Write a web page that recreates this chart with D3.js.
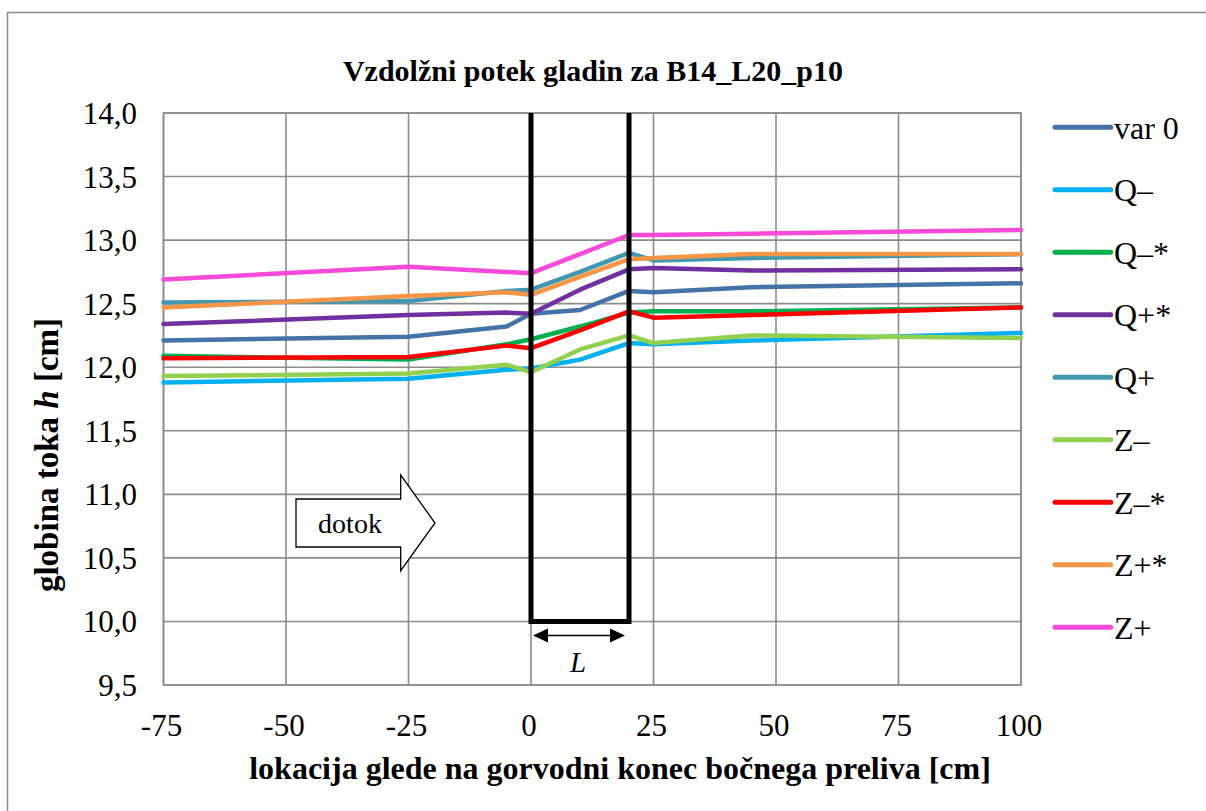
<!DOCTYPE html>
<html><head><meta charset="utf-8">
<script src="https://cdn.jsdelivr.net/npm/d3@7"></script>
<style>
@font-face{font-family:"ChartSerif";src:local("Liberation Serif"),local("LiberationSerif"),local("Liberation Serif Regular");font-weight:400;font-style:normal}
@font-face{font-family:"ChartSerif";src:local("Liberation Serif Bold"),local("LiberationSerif-Bold");font-weight:700;font-style:normal}
@font-face{font-family:"ChartSerif";src:local("Liberation Serif Italic"),local("LiberationSerif-Italic");font-weight:400;font-style:italic}
@font-face{font-family:"ChartSerif";src:local("Liberation Serif Bold Italic"),local("LiberationSerif-BoldItalic");font-weight:700;font-style:italic}
body{margin:0;background:#fff}svg{display:block}
svg text{font-family:"Liberation Serif","ChartSerif",serif !important}
</style>
</head><body><svg id="c" width="1206" height="811"></svg>
<script>
const xVals = [-75, -25, -5, 0, 10, 20, 25, 45, 100];
const seriesNames = ["var 0","Q–","Q–*","Q+*","Q+","Z–","Z–*","Z+*","Z+"];
const seriesColors = ["#4572A7","#00B0F0","#00B050","#7030A0","#4198AF","#92D050","#FF0000","#F79646","#F84AD8"];
const var0   = [12.21,12.24,12.32,12.42,12.45,12.60,12.59,12.63,12.66];
const qMinus = [11.88,11.91,11.98,11.99,12.06,12.19,12.18,12.21,12.27];
const qMinusS= [12.09,12.06,12.18,12.22,12.32,12.43,12.44,12.44,12.47];
const qPlusS = [12.34,12.41,12.43,12.42,12.61,12.77,12.78,12.76,12.77];
const qPlus  = [12.51,12.52,12.60,12.61,12.75,12.90,12.84,12.86,12.89];
const zMinus = [11.93,11.95,12.02,11.96,12.14,12.25,12.19,12.25,12.23];
const zMinusS= [12.07,12.08,12.17,12.15,12.29,12.44,12.39,12.41,12.47];
const zPlusS = [12.47,12.56,12.59,12.57,12.71,12.85,12.86,12.89,12.89];
const zPlus  = [12.69,12.79,12.75,12.74,12.89,13.04,13.04,13.05,13.08];
const seriesValues = [var0,qMinus,qMinusS,qPlusS,qPlus,zMinus,zMinusS,zPlusS,zPlus];
const xTicks = [-75,-50,-25,0,25,50,75,100];
const yTicks = [9.5,10,10.5,11,11.5,12,12.5,13,13.5,14];
const weirX = [0, 20];
const weirBottom = 10.0;

const FONT = '"Liberation Serif"';
const svg = d3.select("#c");
const L=163.5,R=1021,T=113,B=685;
const x = d3.scaleLinear().domain([-75,100]).range([L,R]);
const y = d3.scaleLinear().domain([9.5,14]).range([B,T]);
const fmt = d => d3.format(".1f")(d).replace(".",",");
function txt(sel){ return sel.attr("font-family",FONT); }

svg.append("rect").attr("x",7.5).attr("y",12.5).attr("width",1260).attr("height",900)
  .attr("fill","#fff").attr("stroke","#8c8c8c").attr("stroke-width",1.5);

// gridlines (no axis text)
const grid = svg.append("g");
grid.selectAll("line.vx").data(xTicks).join("line").attr("class","vx")
  .attr("x1",d=>x(d)).attr("x2",d=>x(d)).attr("y1",T).attr("y2",B)
  .attr("stroke","#8c8c8c").attr("stroke-width",1.6);
grid.selectAll("line.hy").data(yTicks).join("line").attr("class","hy")
  .attr("x1",L).attr("x2",R).attr("y1",d=>y(d)).attr("y2",d=>y(d))
  .attr("stroke","#8c8c8c").attr("stroke-width",1.6);
svg.append("rect").attr("x",L).attr("y",T).attr("width",R-L).attr("height",B-T)
  .attr("fill","none").attr("stroke","#8c8c8c").attr("stroke-width",1.6);

// tick labels
svg.append("g").selectAll("text").data(yTicks).join("text")
  .attr("x",137).attr("y",d=>y(d)+11).attr("text-anchor","end").call(txt)
  .attr("font-size",31).text(fmt);
svg.append("g").selectAll("text").data(xTicks).join("text")
  .attr("x",d=>x(d)-2).attr("y",736).attr("text-anchor","middle").call(txt)
  .attr("font-size",31).text(d=>d);

// series
const line = d3.line().x((d,i)=>x(xVals[i])).y(d=>y(d));
svg.append("g").selectAll("path").data(seriesValues).join("path")
  .attr("d",line).attr("fill","none").attr("stroke",(d,i)=>seriesColors[i])
  .attr("stroke-width",4.5).attr("stroke-linejoin","round").attr("stroke-linecap","round");

// weir
svg.append("path")
  .attr("d",`M${x(weirX[0])},${T} L${x(weirX[0])},${y(weirBottom)} L${x(weirX[1])},${y(weirBottom)} L${x(weirX[1])},${T}`)
  .attr("fill","none").attr("stroke","#000").attr("stroke-width",5);
const ay = y(weirBottom)+14, ax0 = x(weirX[0])+2, ax1 = x(weirX[1])-4;
svg.append("line").attr("x1",ax0+10).attr("x2",ax1-10).attr("y1",ay).attr("y2",ay).attr("stroke","#000").attr("stroke-width",1.5);
svg.append("path").attr("d",`M${ax0},${ay} L${ax0+15},${ay-7} L${ax0+15},${ay+7}Z M${ax1},${ay} L${ax1-15},${ay-7} L${ax1-15},${ay+7}Z`).attr("fill","#000");
svg.append("text").attr("x",(x(weirX[0])+x(weirX[1]))/2-2).attr("y",ay+37).attr("text-anchor","middle").call(txt)
  .attr("font-size",29).attr("font-style","italic").text("L");

// dotok arrow
const bx0=296, bx1=400.7, tipx=435, by0=499, by1=547, hy0=475, hy1=570.7, ty=523;
svg.append("path").attr("d",`M${bx0},${by0} L${bx1},${by0} L${bx1},${hy0} L${tipx},${ty} L${bx1},${hy1} L${bx1},${by1} L${bx0},${by1}Z`)
  .attr("fill","#fff").attr("stroke","#000").attr("stroke-width",1.3);
svg.append("text").attr("x",350).attr("y",533).attr("text-anchor","middle").call(txt).attr("font-size",28).text("dotok");

// legend
const lg = svg.append("g").selectAll("g").data(seriesNames).join("g")
  .attr("transform",(d,i)=>`translate(1055,${127.3+i*62.5})`);
lg.append("line").attr("x1",0).attr("x2",55.7).attr("stroke",(d,i)=>seriesColors[i]).attr("stroke-width",5).attr("stroke-linecap","round");
lg.append("text").attr("x",59).attr("y",11.5).call(txt).attr("font-size",32).text(d=>d);

// titles
svg.append("text").attr("x",593).attr("y",81).attr("text-anchor","middle").call(txt).attr("font-size",30).attr("font-weight","bold")
  .text("Vzdolžni potek gladin za B14_L20_p10");
svg.append("text").attr("x",620).attr("y",779).attr("text-anchor","middle").call(txt).attr("font-size",32).attr("font-weight","bold")
  .text("lokacija glede na gorvodni konec bočnega preliva [cm]");
const yt = svg.append("text").attr("transform","translate(58,455) rotate(-90)").attr("text-anchor","middle").call(txt)
  .attr("font-size",33).attr("font-weight","bold");
yt.append("tspan").text("globina toka ");
yt.append("tspan").attr("font-style","italic").text("h");
yt.append("tspan").text(" [cm]");
</script></body></html>
